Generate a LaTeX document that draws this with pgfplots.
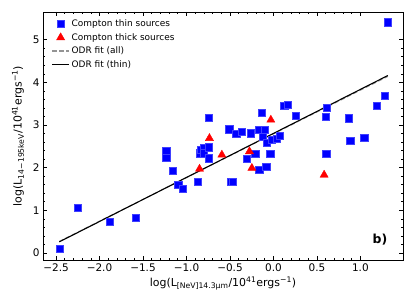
\documentclass[border=0pt]{standalone}
\usepackage{fontspec}
\setmainfont{DejaVu Sans}
\usepackage{pgfplots}
\pgfplotsset{compat=1.18}
\definecolor{fitgray}{rgb}{0.58,0.58,0.58}
\begin{document}
\begin{tikzpicture}
\path[use as bounding box] (-43bp,-48bp) rectangle (372bp,260bp);
\begin{axis}[
 at={(0,0)}, anchor=south west,
 width=360bp, height=248bp, scale only axis,
 xmin=-2.65, xmax=1.49, ymin=-0.165, ymax=5.65,
 xtick={-2.5,-2,-1.5,-1,-0.5,0,0.5,1},
 xticklabels={−2.5,−2.0,−1.5,−1.0,−0.5,0.0,0.5,1.0},
 ytick={0,1,2,3,4,5},
 yticklabels={0,1,2,3,4,5},
 minor x tick num=4, minor y tick num=4,
 tick align=inside,
 major tick length=4.5bp, minor tick length=2.5bp,
 tick style={black, line width=0.6pt},
 axis line style={line width=0.8pt},
 ticklabel style={font=\fontsize{10.5}{12}\selectfont},
 label style={font=\fontsize{11}{13}\selectfont},
 xlabel style={yshift=1bp},
 ylabel style={yshift=2bp},
 xlabel={log(L\textsubscript{[NeV]14.3μm}/10\textsuperscript{41}ergs\textsuperscript{−1})},
 ylabel={log(L\textsubscript{14−195keV}/10\textsuperscript{41}ergs\textsuperscript{−1})},
 legend style={draw=none, fill=none, at={(0.015,0.985)}, anchor=north west,
   font=\fontsize{9}{10}\selectfont, row sep=1.2pt},
 legend cell align=left,
]
\addplot[only marks, mark=square*, mark size=3.6bp, mark options={fill=blue, draw=blue!75!white, line width=0.4pt}]
coordinates {
(-2.46,0.10) (-2.25,1.07) (-1.885,0.73) (-1.586,0.82) (-1.233,2.40) (-1.233,2.235)
(-1.157,1.93) (-1.095,1.605) (-1.04,1.51) (-0.87,1.665) (-0.747,3.18)
(-0.85,2.34) (-0.84,2.42) (-0.80,2.46) (-0.80,2.34) (-0.74,2.48) (-0.74,2.22)
(-0.509,2.90) (-0.429,2.79) (-0.363,2.85) (-0.264,2.81) (-0.49,1.67) (-0.47,1.67)
(-0.133,3.29) (-0.172,2.89) (-0.103,2.89) (-0.122,2.73) (-0.076,2.59) (-0.018,2.65)
(0.039,2.67) (0.069,2.75) (-0.306,2.21) (-0.21,2.32) (-0.038,2.32) (-0.164,1.95)
(-0.084,2.02) (0.606,2.32) (0.614,3.40) (0.602,3.20) (0.123,3.45) (0.165,3.475)
(0.257,3.22) (0.87,3.16) (0.882,2.63) (1.043,2.71) (1.188,3.45) (1.284,3.69) (1.311,5.41)
};
\addlegendentry{Compton thin sources}
\addplot[only marks, mark=triangle*, mark size=4.7bp, mark options={fill=red, draw=red}]
coordinates {
(-0.85,1.97) (-0.736,2.69) (-0.593,2.30) (-0.276,2.38) (-0.248,1.99) (-0.03,3.12) (0.583,1.83)
};
\addlegendentry{Compton thick sources}
\addplot[fitgray, dash pattern=on 4.5bp off 2.5bp, line width=1.1pt] coordinates {(-2.463,0.27) (1.315,4.14)};
\addlegendentry{ODR fit (all)}
\addplot[black, line width=1.1pt] coordinates {(-2.463,0.26) (1.315,4.16)};
\addlegendentry{ODR fit (thin)}
\node[font=\bfseries\fontsize{12.5}{14}\selectfont] at (axis cs:1.226,0.32) {b)};
\end{axis}
\end{tikzpicture}
\end{document}
